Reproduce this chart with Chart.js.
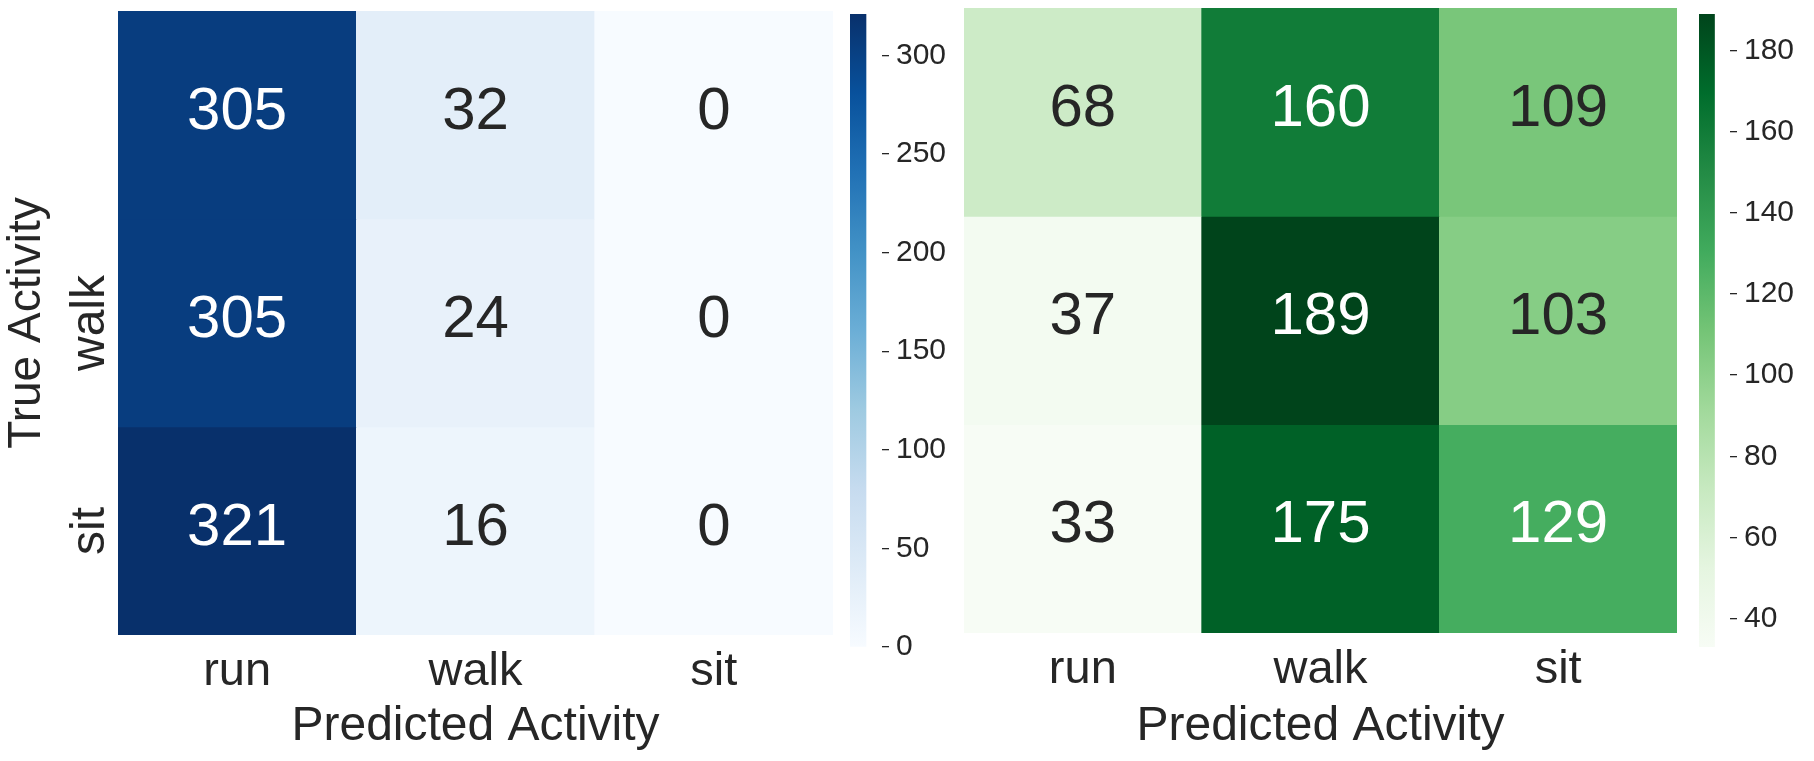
<!DOCTYPE html>
<html>
<head>
<meta charset="utf-8">
<script src="https://cdn.jsdelivr.net/npm/chart.js@4.4.1/dist/chart.umd.min.js"></script>
<style>
  html, body { margin: 0; padding: 0; background: #ffffff; width: 1814px; height: 761px; overflow: hidden; }
  canvas { position: absolute; top: 0; }
</style>
</head>
<body>
<canvas id="heatBlue" width="842" height="761" style="left:0px"></canvas>
<canvas id="barBlue" width="110" height="761" style="left:842px"></canvas>
<canvas id="heatGreen" width="738" height="761" style="left:952px"></canvas>
<canvas id="barGreen" width="124" height="761" style="left:1690px"></canvas>
<script>
// ---------------- data ----------------
const predictedLabels = ['run', 'walk', 'sit'];
const trueTickLabels = ['', 'walk', 'sit'];      // "run" row label is not shown in the original
const xTitle = 'Predicted Activity';
const yTitle = 'True Activity';

// left matrix (Blues), rows = true activity
const blueRowRun  = [305, 32, 0];
const blueRowWalk = [305, 24, 0];
const blueRowSit  = [321, 16, 0];

// right matrix (Greens)
const greenRowRun  = [68, 160, 109];
const greenRowWalk = [37, 189, 103];
const greenRowSit  = [33, 175, 129];

// colour bar ranges and ticks
const blueRange  = [0, 321];
const greenRange = [33, 189];
const blueTicks  = [0, 50, 100, 150, 200, 250, 300];
const greenTicks = [40, 60, 80, 100, 120, 140, 160, 180];

// ---------------- colour maps ----------------
const BLUES  = ['#f7fbff','#deebf7','#c6dbef','#9ecae1','#6baed6','#4292c6','#2171b5','#08519c','#08306b'];
const GREENS = ['#f7fcf5','#e5f5e0','#c7e9c0','#a1d99b','#74c476','#41ab5d','#238b45','#006d2c','#00441b'];

function hexToRgb(h) { return [parseInt(h.slice(1,3),16), parseInt(h.slice(3,5),16), parseInt(h.slice(5,7),16)]; }
function colorAt(stops, t) {
  t = Math.max(0, Math.min(1, t));
  const n = stops.length - 1;
  const p = t * n;
  const i = Math.min(Math.floor(p), n - 1);
  const f = p - i;
  const a = hexToRgb(stops[i]), b = hexToRgb(stops[i + 1]);
  const c = a.map((v, k) => Math.round(v + (b[k] - v) * f));
  return 'rgb(' + c.join(',') + ')';
}
function luminance(rgbStr) {
  const c = rgbStr.match(/\d+/g).map(Number).map(v => {
    v /= 255; return v <= 0.03928 ? v / 12.92 : Math.pow((v + 0.055) / 1.055, 2.4);
  });
  return 0.2126 * c[0] + 0.7152 * c[1] + 0.0722 * c[2];
}

const FONT = '"Liberation Sans", Arial, "DejaVu Sans", sans-serif';
const TEXT = '#262626';

// draws the numbers inside each cell and (optionally) rotated y tick labels
const cellText = {
  id: 'cellText',
  afterDatasetsDraw(chart, args, opts) {
    const ctx = chart.ctx;
    ctx.save();
    ctx.font = '60px ' + FONT;
    ctx.textAlign = 'center';
    ctx.textBaseline = 'middle';
    chart.data.datasets.forEach((ds, i) => {
      const meta = chart.getDatasetMeta(i);
      meta.data.forEach((bar, j) => {
        const p = bar.getProps(['x', 'y', 'base'], true);
        const col = ds.backgroundColor[j];
        ctx.fillStyle = luminance(col) > 0.408 ? TEXT : '#ffffff';
        ctx.fillText(String(ds.values[j]), p.x, (p.y + p.base) / 2 - 3);
      });
    });
    if (opts.yLabels) {
      const ys = chart.scales.y;
      ctx.font = '48px ' + FONT;
      ctx.fillStyle = TEXT;
      ctx.textAlign = 'center';
      ctx.textBaseline = 'alphabetic';
      opts.yLabels.forEach((lab, r) => {
        if (!lab) return;
        ctx.save();
        ctx.translate(ys.right - 14, ys.getPixelForValue(r + 0.5));
        ctx.rotate(-Math.PI / 2);
        ctx.fillText(lab, 0, 0);
        ctx.restore();
      });
    }
    ctx.restore();
  }
};

function heatmap(id, rows, range, stops, cfg) {
  const datasets = rows.map((vals, r) => ({
    data: vals.map(() => [r, r + 1]),
    values: vals,
    backgroundColor: vals.map(v => colorAt(stops, (v - range[0]) / (range[1] - range[0]))),
    borderWidth: 0,
    barPercentage: 1,
    categoryPercentage: 1,
    grouped: false
  }));
  return new Chart(document.getElementById(id), {
    type: 'bar',
    data: { labels: predictedLabels, datasets },
    plugins: [cellText],
    options: {
      responsive: false,
      animation: false,
      layout: { padding: cfg.padding },
      plugins: {
        legend: { display: false },
        tooltip: { enabled: false },
        cellText: { yLabels: cfg.yLabels }
      },
      scales: {
        x: {
          type: 'category',
          offset: true,
          grid: { display: false, drawTicks: false },
          border: { display: false },
          ticks: { color: TEXT, font: { family: FONT, size: 47 }, padding: 9, maxRotation: 0 },
          title: { display: true, text: xTitle, color: TEXT, font: { family: FONT, size: 48 }, padding: { top: 0, bottom: 5 } },
          afterFit: s => { s.height = cfg.xHeight; }
        },
        y: {
          type: 'linear',
          min: 0, max: rows.length,
          reverse: true,
          grid: { display: false, drawTicks: false },
          border: { display: false },
          ticks: { display: false },
          title: cfg.yTitle ? { display: true, text: yTitle, color: TEXT, font: { family: FONT, size: 46 }, padding: { top: 0, bottom: 0 } } : { display: false },
          afterFit: s => { s.width = cfg.yWidth; }
        }
      }
    }
  });
}

function colorbar(id, range, stops, ticks, cfg) {
  return new Chart(document.getElementById(id), {
    type: 'bar',
    data: {
      labels: ['scale'],
      datasets: [{
        data: [[range[0], range[1]]],
        borderWidth: 0,
        barPercentage: 1,
        categoryPercentage: 1,
        backgroundColor: (c) => {
          const ch = c.chart;
          if (!ch.chartArea || !ch.scales.y) return stops[0];
          const y0 = ch.scales.y.getPixelForValue(range[0]);
          const y1 = ch.scales.y.getPixelForValue(range[1]);
          const g = ch.ctx.createLinearGradient(0, y0, 0, y1);
          stops.forEach((s, i) => g.addColorStop(i / (stops.length - 1), s));
          return g;
        }
      }]
    },
    options: {
      responsive: false,
      animation: false,
      layout: { padding: cfg.padding },
      plugins: { legend: { display: false }, tooltip: { enabled: false } },
      scales: {
        x: { display: false, offset: false },
        y: {
          type: 'linear',
          position: 'right',
          min: range[0], max: range[1],
          afterBuildTicks: s => { s.ticks = ticks.map(v => ({ value: v })); },
          grid: { display: true, drawOnChartArea: false, drawTicks: true, tickLength: 7, tickColor: TEXT, lineWidth: 1.3 },
          border: { display: false },
          ticks: { color: TEXT, font: { family: FONT, size: 30 }, padding: 7 },
          afterFit: s => { s.width = cfg.yWidth; s.paddingTop = 0; s.paddingBottom = 0; }
        }
      }
    }
  });
}

heatmap('heatBlue', [blueRowRun, blueRowWalk, blueRowSit], blueRange, BLUES,
  { padding: { top: 11, right: 9, left: 0, bottom: 0 }, xHeight: 126, yWidth: 118, yTitle: true, yLabels: trueTickLabels });
colorbar('barBlue', blueRange, BLUES, blueTicks,
  { padding: { top: 14, bottom: 114, left: 8, right: 0 }, yWidth: 70 });
heatmap('heatGreen', [greenRowRun, greenRowWalk, greenRowSit], greenRange, GREENS,
  { padding: { top: 8, right: 13, left: 0, bottom: 0 }, xHeight: 128, yWidth: 12, yTitle: false, yLabels: null });
colorbar('barGreen', greenRange, GREENS, greenTicks,
  { padding: { top: 14, bottom: 114, left: 9, right: 0 }, yWidth: 84 });
</script>
</body>
</html>
